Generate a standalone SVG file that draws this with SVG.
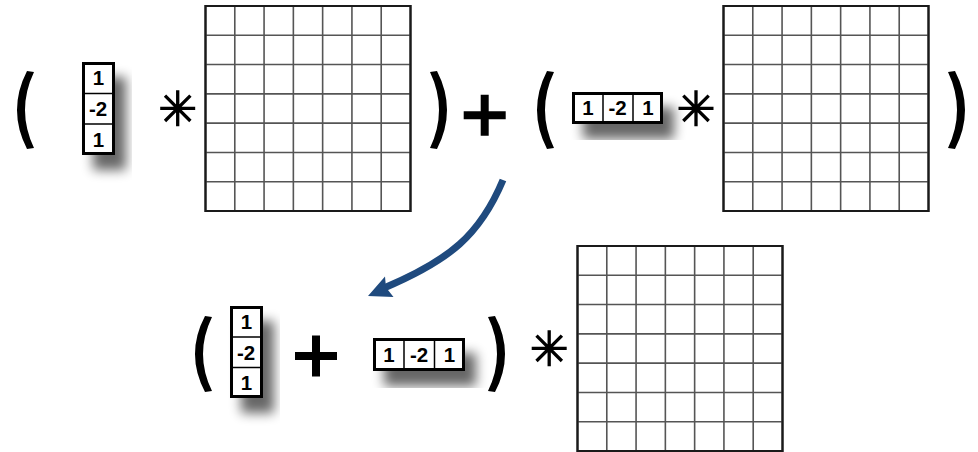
<svg xmlns="http://www.w3.org/2000/svg" xmlns:xlink="http://www.w3.org/1999/xlink" width="978" height="452" viewBox="0 0 978 452">
<style>
.kb{fill:#fff;stroke:#000;stroke-width:3}
.kd{stroke:#000;stroke-width:1.5}
.kt{font-family:"Liberation Sans",Arial,sans-serif;font-weight:bold;font-size:20.5px;text-anchor:middle;fill:#000}
.gl{stroke:#555;stroke-width:1.6;fill:none}
.go{fill:#fff;stroke:#1a1a1a;stroke-width:2}
.ast{stroke:#000;stroke-width:3.3;fill:none}
.par{fill:#000}
.plus{fill:#000}
.arr{fill:none;stroke:#1f4a7e;stroke-width:7}
.arh{fill:#1f4a7e}
</style>
<defs>
<filter id="sh" x="-60%" y="-60%" width="220%" height="220%">
<feGaussianBlur in="SourceAlpha" stdDeviation="6"/>
<feOffset dx="11" dy="15"/>
<feComponentTransfer><feFuncA type="linear" slope="0.6"/></feComponentTransfer>
<feMerge><feMergeNode/><feMergeNode in="SourceGraphic"/></feMerge>
</filter>
<g id="grid">
<rect class="go" x="0" y="0" width="205" height="205"/>
<path class="gl" d="M29.29,0V205M58.57,0V205M87.86,0V205M117.14,0V205M146.43,0V205M175.71,0V205M0,29.29H205M0,58.57H205M0,87.86H205M0,117.14H205M0,146.43H205M0,175.71H205"/>
<rect x="0" y="0" width="205" height="205" fill="none" stroke="#1a1a1a" stroke-width="2"/>
</g>
<path id="lp" class="par" d="M10,1 Q-10,40 10,79 L17,78 Q-1,40 17,2 Z"/>
<path id="star" class="ast" d="M0,-18V18M-17.5,0H17.5M-12.7,-12.7L12.7,12.7M-12.7,12.7L12.7,-12.7"/>
<path id="plus" class="plus" d="M-21,-4H-4V-20.5H4V-4H21V4H4V20.5H-4V4H-21Z"/>
</defs>

<g id="paren-open-1"><use xlink:href="#lp" transform="translate(17,70)"/></g>

<g id="kernel-v-1">
<rect class="kb" x="83.5" y="63.5" width="30" height="90" filter="url(#sh)"/>
<path class="kd" d="M83.5,93.5H113.5M83.5,124H113.5"/>
<text class="kt" x="98.5" y="85">1</text>
<text class="kt" x="98" y="115.5">-2</text>
<text class="kt" x="98.5" y="146.5">1</text>
</g>

<g id="star-1"><use xlink:href="#star" transform="translate(177.7,108.3)"/></g>

<g id="grid-1"><use xlink:href="#grid" x="205.5" y="6"/></g>

<g id="paren-close-1"><use xlink:href="#lp" transform="translate(447,70) scale(-1,1)"/></g>

<g id="plus-1"><use xlink:href="#plus" transform="translate(484.7,115.3)"/></g>

<g id="paren-open-2"><use xlink:href="#lp" transform="translate(537,70)"/></g>

<g id="kernel-h-1">
<rect class="kb" x="573.5" y="93.5" width="88" height="29" filter="url(#sh)"/>
<path class="kd" d="M603,93.5V122.5M633,93.5V122.5"/>
<text class="kt" x="588" y="115">1</text>
<text class="kt" x="617.5" y="115">-2</text>
<text class="kt" x="648" y="115">1</text>
</g>

<g id="star-2"><use xlink:href="#star" transform="translate(696,108.3)"/></g>

<g id="grid-2"><use xlink:href="#grid" x="723.5" y="6"/></g>

<g id="paren-close-2"><use xlink:href="#lp" transform="translate(965,70) scale(-1,1)"/></g>

<g id="connectors">
<path class="arr" d="M503,180 C480,235 450,260 384,288"/>
<path class="arh" d="M368,296 L385,276.5 L386,287.5 L393.5,297 Z"/>
</g>

<g id="paren-open-3"><use xlink:href="#lp" transform="translate(195,315) scale(1,0.975)"/></g>

<g id="kernel-v-2">
<rect class="kb" x="231.5" y="307.5" width="30" height="89" filter="url(#sh)"/>
<path class="kd" d="M231.5,337H261.5M231.5,367.5H261.5"/>
<text class="kt" x="246.5" y="329">1</text>
<text class="kt" x="246" y="359.5">-2</text>
<text class="kt" x="246.5" y="390">1</text>
</g>

<g id="plus-2"><use xlink:href="#plus" transform="translate(316,356)"/></g>

<g id="kernel-h-2">
<rect class="kb" x="374.5" y="339.5" width="89" height="30" filter="url(#sh)"/>
<path class="kd" d="M404,339.5V369.5M434.5,339.5V369.5"/>
<text class="kt" x="389" y="361.5">1</text>
<text class="kt" x="419" y="361.5">-2</text>
<text class="kt" x="449.5" y="361.5">1</text>
</g>

<g id="paren-close-3"><use xlink:href="#lp" transform="translate(505,315) scale(-1,0.975)"/></g>

<g id="star-3"><use xlink:href="#star" transform="translate(549.2,348.3)"/></g>

<g id="grid-3"><use xlink:href="#grid" x="577.5" y="246"/></g>
</svg>
